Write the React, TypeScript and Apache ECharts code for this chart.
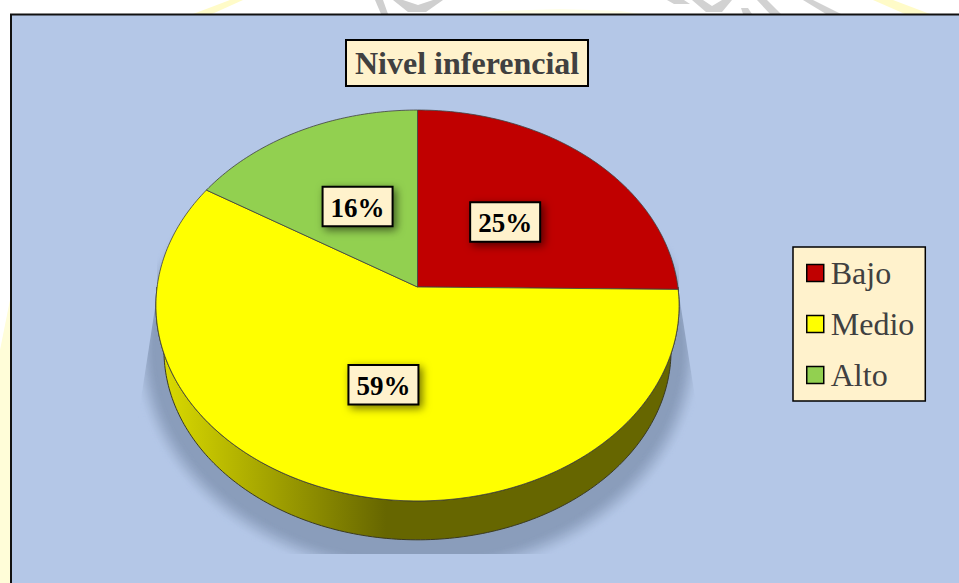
import React, { useEffect, useRef } from "react";
import * as echarts from "echarts";

const titleText = "Nivel inferencial";
const categories = ["Bajo", "Medio", "Alto"];
const shares = [25.2, 58.6, 16.2];
const colors = ["#C00000", "#FFFF00", "#92D050"];

const SERIF = '"Liberation Serif", "Times New Roman", serif';
const CREAM = "#FFF2CC";
const PANEL = "#B4C7E7";
const SHADOW = "#8A9DBB";

// perspective disc: apex, half axes and foreshortening of the tilted pie
const top = { cx: 417.5, cy: 287, a: 260.4, b: 193.7 };
const bottom = { cx: 417.5, cy: 332.5, a: 252.4, b: 187.7 };
const K = 0.0946;
const labelNudge = [
  [-2, 1],
  [4, 0.5],
  [1, 1],
];

function project(d: typeof top, frac: number, r = 1): number[] {
  const t = frac * Math.PI * 2;
  const X = Math.sin(t) * r;
  const Y = -Math.cos(t) * r;
  const w = 1 - K * Y;
  return [d.cx + (d.a * X) / w, d.cy + (d.b * Y) / w];
}

function arc(d: typeof top, from: number, to: number): number[][] {
  const n = Math.max(2, Math.ceil((to - from) * 360));
  const pts: number[][] = [];
  for (let i = 0; i <= n; i++) pts.push(project(d, from + ((to - from) * i) / n));
  return pts;
}

function shade(hex: string, f: number): string {
  const v = parseInt(hex.slice(1), 16);
  const c = [(v >> 16) & 255, (v >> 8) & 255, v & 255].map((x) => Math.round(x * f));
  return `rgb(${c[0]},${c[1]},${c[2]})`;
}

function mix(a: string, b: string, t: number): string {
  const pa = parseInt(a.slice(1), 16);
  const pb = parseInt(b.slice(1), 16);
  const ch = (s: number) => Math.round(((pa >> s) & 255) * (1 - t) + ((pb >> s) & 255) * t);
  return `rgb(${ch(16)},${ch(8)},${ch(0)})`;
}

const total = shares.reduce((s, v) => s + v, 0);

function makeSeries(idx: number) {
  const start = shares.slice(0, idx).reduce((s, v) => s + v, 0) / total;
  return {
    type: "custom",
    name: categories[idx],
    coordinateSystem: "none",
    silent: true,
    itemStyle: { color: colors[idx], borderColor: "#000", borderWidth: 1.5 },
    data: [[shares[idx]]],
    renderItem: (_p: any, api: any) => {
      const end = start + api.value(0) / total;
      const children: any[] = [];
      // side wall: only the part of the slice that faces the viewer
      const from = Math.max(start, 0.25);
      const to = Math.min(end, 0.75);
      if (to > from) {
        const fr = arc(top, from, to);
        const bk = arc(bottom, from, to).reverse();
        children.push({
          type: "polygon",
          z2: 1,
          shape: { points: fr.concat(bk) },
          style: {
            fill: new echarts.graphic.LinearGradient(0, 0, 1, 0, [
              { offset: 0, color: shade(colors[idx], 0.87) },
              { offset: 0.44, color: shade(colors[idx], 0.4) },
              { offset: 1, color: shade(colors[idx], 0.4) },
            ]),
            stroke: "#3a3a20",
            lineWidth: 1,
          },
        });
      }
      // top face
      children.push({
        type: "polygon",
        z2: 2,
        shape: { points: [[top.cx, top.cy] as number[]].concat(arc(top, start, end)) },
        style: { fill: colors[idx], stroke: "#404040", lineWidth: 0.8 },
      });
      // data label
      const mid = start + (end - start) / 2;
      const [px, py] = project(top, mid, 0.5);
      const lx = px + labelNudge[idx][0];
      const ly = py + labelNudge[idx][1];
      children.push({
        type: "rect",
        z2: 3,
        shape: { x: lx - 35, y: ly - 20, width: 70, height: 39.5 },
        style: {
          fill: CREAM,
          stroke: "#000",
          lineWidth: 2,
          shadowBlur: 8,
          shadowOffsetX: 3,
          shadowOffsetY: 3,
          shadowColor: "rgba(0,0,0,0.55)",
        },
      });
      children.push({
        type: "text",
        z2: 4,
        style: {
          text: `${Math.round(api.value(0))}%`,
          x: lx,
          y: ly + 1,
          align: "center",
          verticalAlign: "middle",
          fill: "#000",
          font: `bold 27px ${SERIF}`,
        },
      });
      return { type: "group", children };
    },
  };
}

// soft cast shadow under the disc, built from nested ellipses
function shadowRings() {
  const steps = 28;
  const rings: any[] = [];
  for (let i = 0; i <= steps; i++) {
    const t = i / steps;
    const s = t * t * (3 - 2 * t);
    rings.push({
      type: "ellipse",
      z: -9,
      silent: true,
      shape: {
        cx: 417.5,
        cy: 351 - 3 * t,
        rx: 286 - 24 * t,
        ry: 232 - 22 * t,
      },
      style: { fill: mix(PANEL, SHADOW, s) },
    });
  }
  return rings;
}

const watermark = [
  { fill: "#FFFBC8", pts: [[230, 0], [243, 0], [212, 14], [193, 14]] },
  { fill: "#FFFEE8", pts: [[459, 14], [500, 11], [560, 9], [620, 11], [642, 14]] },
  { fill: "#FFFBC8", pts: [[873, 0], [893, 0], [930, 14], [905, 14]] },
  { fill: "#FFFDD8", pts: [[10, 300], [10, 583], [0, 583], [0, 350]] },
  { fill: "#CFCFCF", pts: [[375, 0], [383, 0], [388, 14], [381, 14]] },
  { fill: "#CFCFCF", pts: [[393, 0], [403, 0], [418, 5], [433, 0], [443, 0], [426, 12], [408, 12]] },
  { fill: "#D2D2D2", pts: [[667, 0], [684, 0], [690, 4], [674, 4]] },
  { fill: "#D2D2D2", pts: [[692, 0], [703, 0], [712, 6], [722, 0], [732, 0], [722, 12], [706, 12]] },
  { fill: "#D2D2D2", pts: [[741, 8], [748, 8], [752, 14], [743, 14]] },
  { fill: "#D2D2D2", pts: [[757, 0], [767, 0], [781, 14], [770, 14]] },
  { fill: "#D2D2D2", pts: [[803, 0], [813, 0], [841, 14], [826, 14]] },
];

export default function App() {
  const ref = useRef<HTMLDivElement>(null);
  useEffect(() => {
    const chart = echarts.init(ref.current!, null, { renderer: "svg" });
    chart.setOption({
      animation: false,
      backgroundColor: "#FFFFFF",
      title: {
        text: titleText,
        left: 346,
        top: 40,
        padding: [7, 9, 7, 9],
        backgroundColor: CREAM,
        borderColor: "#000",
        borderWidth: 2,
        textStyle: { fontFamily: SERIF, fontWeight: "bold", fontSize: 32, color: "#404040", lineHeight: 32 },
      },
      legend: {
        orient: "vertical",
        left: 793,
        top: 247,
        padding: [10, 11, 10, 13],
        itemGap: 19,
        itemWidth: 17,
        itemHeight: 17,
        icon: "rect",
        backgroundColor: CREAM,
        borderColor: "#000",
        borderWidth: 1.5,
        itemStyle: { borderColor: "#000", borderWidth: 1.5 },
        selectedMode: false,
        textStyle: { fontFamily: SERIF, fontSize: 32, color: "#404040", padding: [0, 0, 0, 2], lineHeight: 32 },
        data: categories,
      },
      graphic: [
        ...watermark.map((w) => ({
          type: "polygon",
          z: -20,
          silent: true,
          shape: { points: w.pts },
          style: { fill: w.fill },
        })),
        {
          type: "rect",
          z: -10,
          silent: true,
          shape: { x: 11, y: 14.5, width: 960, height: 580 },
          style: { fill: PANEL, stroke: "#111", lineWidth: 2 },
        },
        ...shadowRings(),
        {
          type: "rect",
          z: -8,
          silent: true,
          shape: { x: 110, y: 554, width: 620, height: 29 },
          style: { fill: PANEL },
        },
        {
          type: "polygon",
          z: -8,
          silent: true,
          shape: { points: [[157, 250], [157, 295], [137, 425], [110, 425], [110, 250]] },
          style: { fill: PANEL },
        },
        {
          type: "polygon",
          z: -8,
          silent: true,
          shape: { points: [[679, 250], [679, 295], [697, 410], [730, 410], [730, 250]] },
          style: { fill: PANEL },
        },
      ],
      series: categories.map((_, i) => makeSeries(i)),
    });
    return () => chart.dispose();
  }, []);
  return <div ref={ref} style={{ position: "fixed", left: 0, top: 0, width: 959, height: 583 }} />;
}
